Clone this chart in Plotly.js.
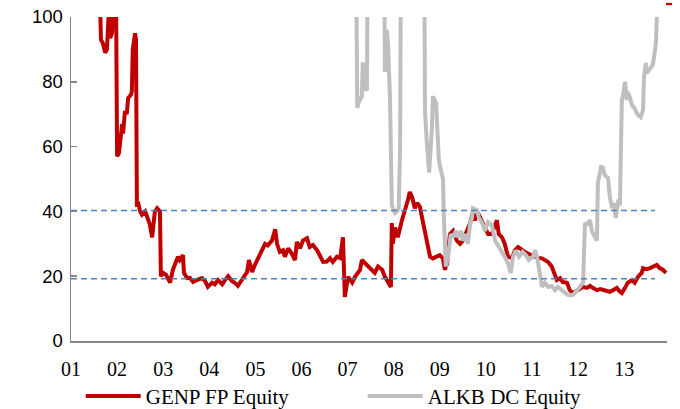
<!DOCTYPE html>
<html>
<head>
<meta charset="utf-8">
<script src="https://cdn.plot.ly/plotly-3.0.1.min.js"></script>
<style>html,body{margin:0;padding:0;background:#fff;}#chart{width:680px;height:409px;}</style>
</head>
<body>
<div id="chart"></div>
<script>
// Decimal-year dates and values
var genpDates = [2001.62,2001.63,2001.65,2001.69,2001.74,2001.78,2001.82,2001.85,2001.89,2001.91,2001.95,2001.98,2002.00,2002.04,2002.08,2002.11,2002.13,2002.17,2002.21,2002.24,2002.30,2002.32,2002.34,2002.39,2002.41,2002.43,2002.45,2002.50,2002.54,2002.61,2002.65,2002.71,2002.76,2002.82,2002.87,2002.93,2002.95,2003.00,2003.06,2003.10,2003.15,2003.21,2003.26,2003.32,2003.36,2003.43,2003.45,2003.52,2003.58,2003.65,2003.73,2003.84,2003.91,2003.97,2004.06,2004.12,2004.19,2004.28,2004.34,2004.41,2004.49,2004.56,2004.62,2004.71,2004.77,2004.82,2004.86,2004.93,2004.99,2005.06,2005.14,2005.21,2005.27,2005.36,2005.43,2005.47,2005.53,2005.60,2005.64,2005.71,2005.79,2005.86,2005.90,2005.97,2006.03,2006.12,2006.18,2006.25,2006.34,2006.40,2006.47,2006.55,2006.62,2006.68,2006.77,2006.84,2006.90,2006.92,2006.94,2007.01,2007.10,2007.16,2007.27,2007.31,2007.38,2007.44,2007.53,2007.59,2007.66,2007.75,2007.81,2007.88,2007.94,2007.96,2007.98,2008.03,2008.09,2008.18,2008.25,2008.29,2008.31,2008.35,2008.40,2008.46,2008.51,2008.57,2008.64,2008.72,2008.79,2008.85,2008.94,2009.00,2009.07,2009.11,2009.16,2009.22,2009.29,2009.37,2009.44,2009.50,2009.59,2009.66,2009.72,2009.76,2009.83,2009.92,2009.98,2010.05,2010.13,2010.20,2010.24,2010.28,2010.35,2010.41,2010.48,2010.57,2010.63,2010.70,2010.78,2010.85,2010.91,2011.00,2011.07,2011.13,2011.22,2011.28,2011.35,2011.43,2011.50,2011.54,2011.61,2011.67,2011.76,2011.82,2011.89,2011.98,2012.04,2012.11,2012.19,2012.26,2012.32,2012.41,2012.48,2012.54,2012.63,2012.69,2012.76,2012.84,2012.91,2012.95,2013.02,2013.08,2013.17,2013.23,2013.30,2013.38,2013.41,2013.49,2013.56,2013.62,2013.71,2013.77,2013.84,2013.91];
var genpValues = [110,100,93,92,89,90,102,93.5,95,105,102,100,57,58,63,67,64,71,70,75,76,77,90,95,93,41.4,43,40,39,40,38,36,32,40,41,40,20,21,20.5,19,18,22,24,26,25,26.5,21,19.4,19.5,18.2,18.8,19.4,18.5,16.7,18,17.5,18.8,17.5,18.8,20,18.5,17.9,17,18.8,20.4,21.3,25,21.3,23.5,25.6,27.5,30,29.5,31,34.5,30,27.5,28,26,28.6,27,25,30.6,28.6,31,31.7,29,29.6,28,26.5,24.4,24.5,25.6,24.4,26,25.6,32,23,13.6,19.8,18,19.8,21.9,25,24,23,22,21,23,22,19.8,18,16.7,36.4,30,35,32,37.3,41.4,42.6,43.5,46,44.4,41,42.6,41.4,36.4,30,26,25.5,26,26.5,25.5,22,24,33,34,31,30,31,34,36.4,39.5,37.3,39.5,36.4,35,33,33,35.8,37.3,33,32,30,26,25.6,28,29,28,27.5,27,26.5,26,25.6,25.5,25,24.4,23,20.4,18.8,19.4,18.2,18,15.7,14.8,15.7,16,16.7,16.4,17,16.4,15.7,16,15.7,15.5,15.2,15.7,16.4,15.2,14.8,16.4,18,18.8,18,19.8,21,22.5,22.2,22.5,23,23.5,22.5,22,21];

var alkbDates = [2007.18,2007.20,2007.21,2007.25,2007.29,2007.31,2007.33,2007.36,2007.42,2007.44,2007.79,2007.81,2007.85,2007.88,2007.92,2007.94,2007.96,2007.98,2008.03,2008.07,2008.11,2008.14,2008.16,2008.66,2008.68,2008.72,2008.77,2008.83,2008.85,2008.92,2008.94,2008.98,2009.02,2009.07,2009.09,2009.13,2009.18,2009.24,2009.29,2009.35,2009.39,2009.46,2009.50,2009.57,2009.61,2009.66,2009.70,2009.72,2009.81,2009.85,2009.92,2009.98,2010.05,2010.13,2010.20,2010.26,2010.35,2010.41,2010.48,2010.54,2010.59,2010.65,2010.72,2010.80,2010.87,2010.93,2011.02,2011.07,2011.11,2011.15,2011.22,2011.28,2011.35,2011.43,2011.50,2011.56,2011.65,2011.72,2011.78,2011.82,2011.89,2011.98,2012.04,2012.11,2012.15,2012.19,2012.26,2012.30,2012.37,2012.41,2012.43,2012.50,2012.54,2012.58,2012.65,2012.69,2012.74,2012.78,2012.82,2012.87,2012.91,2012.93,2012.95,2012.97,2013.02,2013.06,2013.08,2013.13,2013.17,2013.21,2013.26,2013.30,2013.36,2013.41,2013.43,2013.47,2013.49,2013.56,2013.62,2013.65,2013.69,2013.71,2013.73];
var alkbValues = [130,100,72,74,75,75.5,86,78,77.5,130,130,83,96,91,75,55,42,41,39.5,40,41,60,130,130,71,61,52,66,75.5,73.5,66,56,53,50,38,23,26,33,32,34,32,34,31,33,30,36.4,38,41,40.4,38,36.4,34,36.7,35.8,31,29.6,28,26,24,21,26,28,26,27.5,26.5,25,26,28,26,22,16.7,18,16.7,17,15.7,16.7,15.7,15.2,14.2,14.2,14.2,15.7,16.7,18,36.4,36,37.3,34,32,31,48.8,53.7,53.5,51.2,50.3,44.4,41,42.6,38,42.9,42.6,61,74.4,75.3,80,74.4,76.9,75,72.8,72.2,70.7,69.8,69.1,71.3,81,85.8,82.7,84.3,85.2,87.7,92,100,115];

// Horizontal reference levels
var levelDates = [2001.0, 2013.67];
var upperLevel = [40.3, 40.3];
var lowerLevel = [19.2, 19.2];

var seriesNames = ['GENP FP Equity', 'ALKB DC Equity'];
var yearTicks = [2001,2002,2003,2004,2005,2006,2007,2008,2009,2010,2011,2012,2013];
var yearLabels = ['01','02','03','04','05','06','07','08','09','10','11','12','13'];

var traces = [
  {x: genpDates, y: genpValues, type: 'scatter', mode: 'lines', name: seriesNames[0],
   legend: 'legend', line: {color: '#C00000', width: 4}},
  {x: alkbDates, y: alkbValues, type: 'scatter', mode: 'lines', name: seriesNames[1],
   legend: 'legend2', line: {color: '#BFBFBF', width: 4}},
  {x: levelDates, y: upperLevel, type: 'scatter', mode: 'lines', showlegend: false, hoverinfo: 'skip',
   line: {color: '#4F81BD', width: 1.5, dash: '6px,4px'}},
  {x: levelDates, y: lowerLevel, type: 'scatter', mode: 'lines', showlegend: false, hoverinfo: 'skip',
   line: {color: '#4F81BD', width: 1.5, dash: '6px,4px'}}
];

var legendFont = {family: 'Liberation Serif', size: 21, color: '#000'};
var layout = {
  width: 680, height: 409,
  margin: {l: 71, r: 13, t: 17, b: 68},
  paper_bgcolor: '#fff', plot_bgcolor: '#fff',
  showlegend: true,
  legend: {orientation: 'h', xref: 'container', yref: 'container', x: 0.1187, y: 0.031,
           xanchor: 'left', yanchor: 'middle', itemwidth: 55, bgcolor: 'rgba(0,0,0,0)', font: legendFont},
  legend2: {orientation: 'h', xref: 'container', yref: 'container', x: 0.5334, y: 0.031,
            xanchor: 'left', yanchor: 'middle', itemwidth: 55, bgcolor: 'rgba(0,0,0,0)', font: legendFont},
  xaxis: {range: [2001, 2013.93], tickmode: 'array', tickvals: yearTicks, ticktext: yearLabels,
          showline: true, linecolor: '#868686', linewidth: 1.5, ticks: '', showgrid: false, zeroline: false,
          ticklabelstandoff: 9,
          tickfont: {family: 'Liberation Serif', size: 20, color: '#000'}, fixedrange: true},
  yaxis: {range: [0, 100], tickmode: 'linear', tick0: 0, dtick: 20, ticks: 'inside', ticklen: 6,
          tickcolor: '#868686', tickwidth: 1.5, showline: true, linecolor: '#868686', linewidth: 1.5,
          showgrid: false, zeroline: false, ticklabelstandoff: 3,
          tickfont: {family: 'Liberation Sans', size: 18.5, color: '#000'}, fixedrange: true},
  shapes: [{type: 'line', xref: 'paper', yref: 'paper', x0: 0.9983, x1: 1.0084, y0: 1.04, y1: 1.04,
            line: {color: '#C00000', width: 2.3}}]
};

Plotly.newPlot('chart', traces, layout, {displayModeBar: false, staticPlot: true});
</script>
</body>
</html>
